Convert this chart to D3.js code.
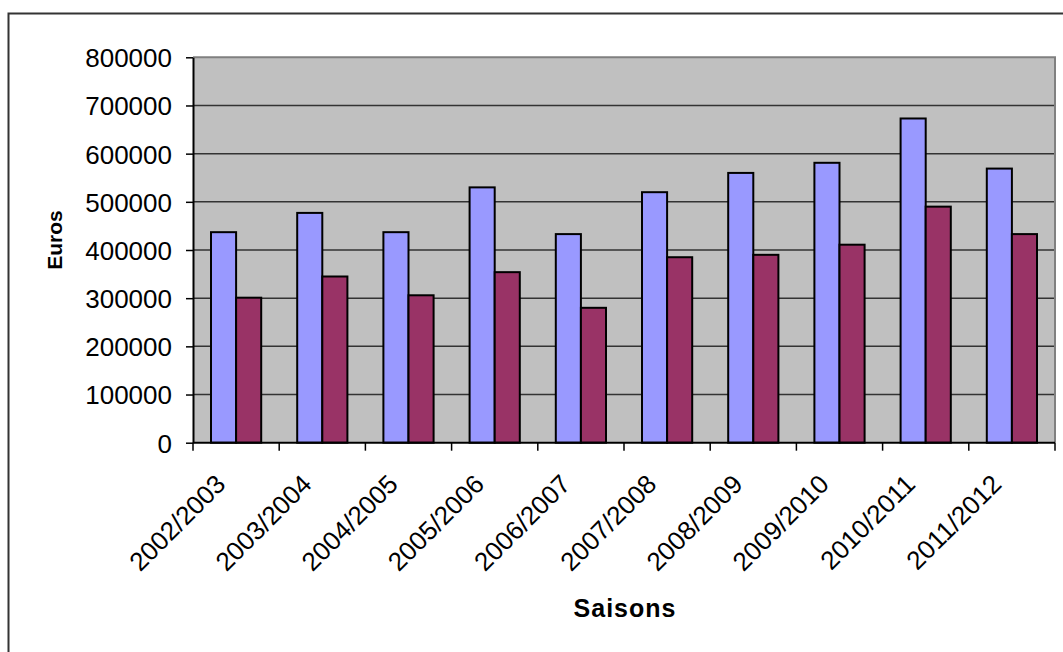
<!DOCTYPE html>
<html>
<head>
<meta charset="utf-8">
<script src="https://cdn.jsdelivr.net/npm/d3@7"></script>
<style>
  html, body { margin: 0; padding: 0; background: #ffffff; }
  svg { display: block; }
  text { font-family: "Liberation Sans", Arial, sans-serif; fill: #000; }
</style>
</head>
<body>
<svg id="chart" width="1063" height="652"></svg>
<script>
// Seasons on the x axis
const seasons = ["2002/2003", "2003/2004", "2004/2005", "2005/2006", "2006/2007",
                 "2007/2008", "2008/2009", "2009/2010", "2010/2011", "2011/2012"];
// Two series of amounts in euros per season
const seriesA = [437000, 477000, 437000, 530000, 433000, 520000, 560000, 581000, 673000, 569000];
const seriesB = [301000, 345000, 306000, 354000, 280000, 385000, 390000, 411000, 490000, 433000];
// Y axis tick values
const yTicks = [0, 100000, 200000, 300000, 400000, 500000, 600000, 700000, 800000];

const seriesNames = ["A", "B"];
const seriesColors = ["#9999FF", "#993366"];

const svg = d3.select("#chart");

// Outer chart frame
svg.append("rect")
  .attr("x", 8.5).attr("y", 13.5)
  .attr("width", 1200).attr("height", 800)
  .attr("fill", "#ffffff")
  .attr("stroke", "#333333").attr("stroke-width", 2);

const plot = { left: 193, right: 1055, top: 57.3, bottom: 442.7 };

const x = d3.scaleBand().domain(seasons).range([plot.left, plot.right]).padding(0);
const gap = 18;
const xInner = d3.scaleBand().domain(seriesNames).range([gap, x.bandwidth() - gap]).padding(0);
const y = d3.scaleLinear().domain([0, 800000]).range([plot.bottom, plot.top]);

// Plot background
svg.append("rect")
  .attr("x", plot.left).attr("y", plot.top)
  .attr("width", plot.right - plot.left).attr("height", plot.bottom - plot.top)
  .attr("fill", "#C0C0C0");

// Horizontal gridlines
svg.append("g")
  .selectAll("line")
  .data(yTicks.filter(d => d > 0 && d < 800000))
  .join("line")
  .attr("x1", plot.left).attr("x2", plot.right)
  .attr("y1", d => y(d)).attr("y2", d => y(d))
  .attr("stroke", "#333333").attr("stroke-width", 1.5);

// Plot area border (top and right)
svg.append("path")
  .attr("d", `M${plot.left},${plot.top}H${plot.right}V${plot.bottom}`)
  .attr("fill", "none").attr("stroke", "#808080").attr("stroke-width", 2);

// Bars
const rows = seasons.map((s, i) => ({ season: s, values: [seriesA[i], seriesB[i]] }));
const groups = svg.append("g").selectAll("g")
  .data(rows)
  .join("g")
  .attr("transform", d => `translate(${x(d.season)},0)`);

groups.selectAll("rect")
  .data(d => d.values.map((v, j) => ({ key: seriesNames[j], value: v, color: seriesColors[j] })))
  .join("rect")
  .attr("x", d => xInner(d.key))
  .attr("y", d => y(d.value))
  .attr("width", xInner.bandwidth())
  .attr("height", d => y(0) - y(d.value))
  .attr("fill", d => d.color)
  .attr("stroke", "#000000").attr("stroke-width", 2);

// Y axis
const yAxis = svg.append("g")
  .attr("transform", `translate(${plot.left},0)`)
  .call(d3.axisLeft(y).tickValues(yTicks).tickFormat(d3.format("d")).tickSize(7).tickSizeOuter(0).tickPadding(14));
yAxis.select(".domain").attr("stroke", "#000").attr("stroke-width", 2);
yAxis.selectAll(".tick line").attr("stroke", "#000").attr("stroke-width", 1.5);
yAxis.selectAll(".tick text")
  .attr("font-size", 26)
  .attr("font-family", "'Liberation Sans', Arial, sans-serif")
  .attr("dy", "0.36em")
  .attr("fill", "#000");

// X axis: ticks at category boundaries
const boundaries = d3.range(seasons.length + 1).map(i => plot.left + i * x.bandwidth());
const xAxisG = svg.append("g");
xAxisG.append("line")
  .attr("x1", plot.left).attr("x2", plot.right)
  .attr("y1", plot.bottom).attr("y2", plot.bottom)
  .attr("stroke", "#000").attr("stroke-width", 2);
xAxisG.selectAll("line.tick")
  .data(boundaries)
  .join("line")
  .attr("class", "tick")
  .attr("x1", d => d).attr("x2", d => d)
  .attr("y1", plot.bottom).attr("y2", plot.bottom + 8)
  .attr("stroke", "#000").attr("stroke-width", 1.5);

xAxisG.selectAll("text")
  .data(seasons)
  .join("text")
  .attr("transform", d => `translate(${x(d) + x.bandwidth() / 2 - 9},${plot.bottom + 43}) rotate(-45)`)
  .attr("text-anchor", "end")
  .attr("font-size", 26)
  .text(d => d);

// Axis titles
svg.append("text")
  .attr("transform", `translate(${62},${240}) rotate(-90)`)
  .attr("text-anchor", "middle")
  .attr("font-size", 21)
  .attr("font-weight", "bold")
  .text("Euros");

svg.append("text")
  .attr("x", 625).attr("y", 617)
  .attr("text-anchor", "middle")
  .attr("font-size", 25)
  .attr("font-weight", "bold")
  .attr("letter-spacing", 1)
  .text("Saisons");
</script>
</body>
</html>
